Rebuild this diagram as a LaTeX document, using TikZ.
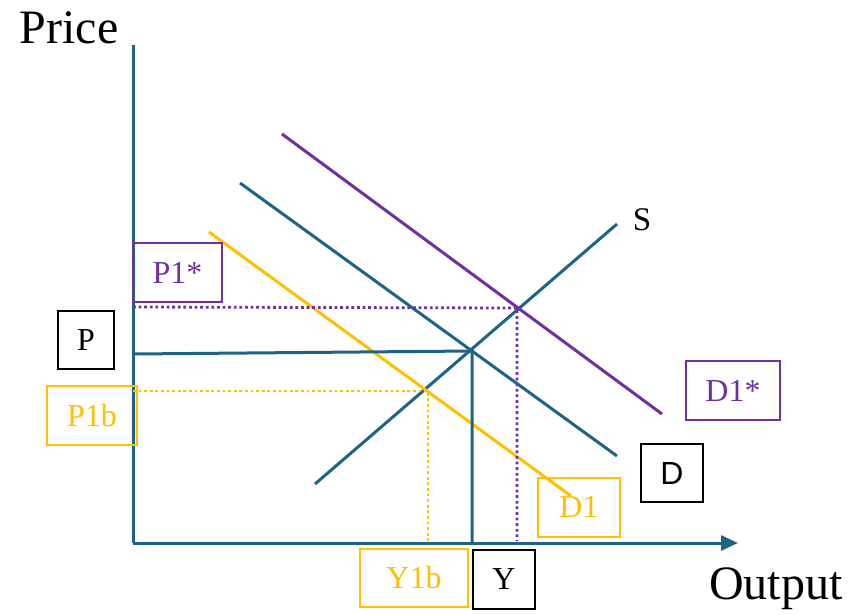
\documentclass[tikz,border=0pt]{standalone}
\usepackage{fontspec}
\setmainfont{Liberation Serif}
\newfontfamily\arialfont{Liberation Sans}
\usetikzlibrary{arrows.meta,positioning}

\definecolor{axisblue}{HTML}{1F6485}
\definecolor{starpurple}{HTML}{7030A0}
\definecolor{bgold}{HTML}{FFC000}

\begin{document}
\begin{tikzpicture}[x=1pt, y=-1pt, line width=3pt]
\useasboundingbox (0,0) rectangle (851,614);

    \tikzstyle{lbl}=[draw, line width=2pt, inner sep=0pt, font=\fontsize{32}{36}\selectfont];
    \tikzstyle{guide}=[line width=2.8pt, dash pattern=on 2.8pt off 2.8pt];

% axes
\coordinate (origin) at (133,543);
\coordinate (ytop) at (133,45);
\coordinate (xend) at (738,543);
\draw[axisblue] (ytop) -- (origin);
\draw[axisblue, -{Triangle[length=17pt, width=15pt]}] (origin) -- (xend);
\node (price) at (69,28) {\fontsize{48}{52}\selectfont Price};
\node (output) at (776,589) {\fontsize{48}{52}\selectfont Output};

% supply and demand
\coordinate (s1) at (315,484);  \coordinate (s2) at (617,224);
\coordinate (d1) at (240,183);  \coordinate (d2) at (617,456);
\coordinate (ds1) at (282,134); \coordinate (ds2) at (662,414);
\coordinate (db1) at (209,232); \coordinate (db2) at (571,496);
\draw[axisblue] (s1) -- (s2);
\draw[axisblue] (d1) -- (d2);
\draw[starpurple] (ds1) -- (ds2);
\draw[bgold] (db1) -- (db2);
\node[anchor=west] (slbl) at (628,220) {\fontsize{33}{36}\selectfont S};

% equilibria
\coordinate (eq) at (472,351);
\coordinate (eqstar) at (517,308);
\coordinate (eqb) at (428,391);
\draw[axisblue] (133,354) -- (eq) -- (eq |- origin);
\draw[guide, starpurple] (133,307) -- (eqstar) -- (517,541);
\draw[guide, bgold] (133,391) -- (eqb) -- (428,541);

% labels
\node[lbl, starpurple, minimum width=89pt, minimum height=59pt] (pstar) at (177.5,272.5) {P1*};
\node[lbl, minimum width=56pt, minimum height=58pt] (p) at (86,340) {P};
\node[lbl, bgold, minimum width=90pt, minimum height=59pt] (pb) at (92,415.5) {P1b};
\node[lbl, starpurple, minimum width=94pt, minimum height=59pt] (dstar) at (733,390.5) {D1*};
\node[lbl, minimum width=62pt, minimum height=58pt] (d) at (672,473) {\arialfont D};
\node[lbl, bgold, minimum width=82pt, minimum height=59pt] (db) at (579,507) {D1};
\node[lbl, bgold, minimum width=108pt, minimum height=58pt] (yb) at (414,578) {Y1b};
\node[lbl, minimum width=62pt, minimum height=59pt] (y) at (504,579.5) {Y};
\end{tikzpicture}
\end{document}
